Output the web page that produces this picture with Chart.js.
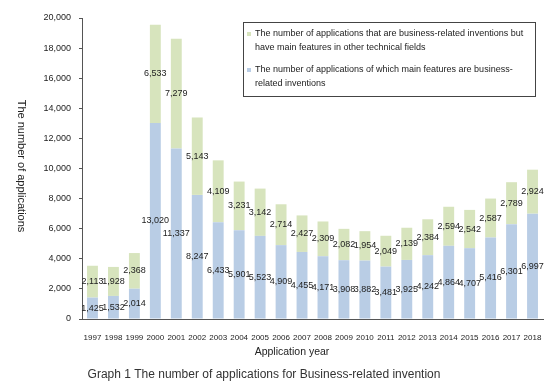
<!DOCTYPE html>
<html>
<head>
<meta charset="utf-8">
<script src="https://cdn.jsdelivr.net/npm/chart.js@4.4.1/dist/chart.umd.min.js"></script>
<style>
  body { margin: 0; background: #fff; }
  #wrap { width: 551px; height: 388px; }
</style>
</head>
<body>
<div id="wrap"><canvas id="chart" width="551" height="388"></canvas></div>
<script>
const years = ['1997', '1998', '1999', '2000', '2001', '2002', '2003', '2004', '2005', '2006', '2007',
    '2008', '2009', '2010', '2011', '2012', '2013', '2014', '2015', '2016', '2017', '2018'];
const mainFeatureCounts = [1425, 1532, 2014, 13020, 11337, 8247, 6433, 5901, 5523, 4909, 4455,
    4171, 3908, 3882, 3481, 3925, 4242, 4864, 4707, 5416, 6301, 6997];
const otherFieldCounts = [2113, 1928, 2368, 6533, 7279, 5143, 4109, 3231, 3142, 2714, 2427,
    2309, 2082, 1954, 2049, 2139, 2384, 2594, 2542, 2587, 2789, 2924];

const mainLabelLines = ['The number of applications of which main features are business-', 'related inventions'];
const otherLabelLines = ['The number of applications that are business-related inventions but', 'have main features in other technical fields'];
const yTitle = 'The number of applications';
const xTitle = 'Application year';
const caption = 'Graph 1 The number of applications for Business-related invention';

const blue = '#b9cde5';
const green = '#d7e4bd';
const fontFamily = '"Liberation Sans", Arial, sans-serif';

const valueLabels = {
    id: 'valueLabels',
    afterDatasetsDraw(chart) {
        const ctx = chart.ctx;
        ctx.save();
        ctx.font = '9px ' + fontFamily;
        ctx.fillStyle = '#222';
        ctx.textAlign = 'center';
        ctx.textBaseline = 'middle';
        chart.data.datasets.forEach((ds, i) => {
            const meta = chart.getDatasetMeta(i);
            meta.data.forEach((bar, j) => {
                const y = (bar.y + bar.base) / 2;
                ctx.fillText(ds.data[j].toLocaleString('en-US'), bar.x, y);
            });
        });
        ctx.restore();
    }
};

const extras = {
    id: 'extras',
    afterDraw(chart) {
        const ctx = chart.ctx;
        ctx.save();

        // legend box
        const bx = 243, by = 22, bw = 292, bh = 74;
        ctx.fillStyle = '#fff';
        ctx.fillRect(bx, by, bw, bh);
        ctx.strokeStyle = '#444';
        ctx.lineWidth = 1;
        ctx.strokeRect(bx + 0.5, by + 0.5, bw, bh);

        ctx.font = '9px ' + fontFamily;
        ctx.textAlign = 'left';
        ctx.textBaseline = 'middle';
        const entries = [
            { color: green, lines: otherLabelLines, y: 34 },
            { color: blue, lines: mainLabelLines, y: 70 }
        ];
        entries.forEach(e => {
            ctx.fillStyle = e.color;
            ctx.fillRect(bx + 4, e.y - 2, 4, 4);
            ctx.fillStyle = '#222';
            e.lines.forEach((line, k) => {
                ctx.fillText(line, bx + 12, e.y + k * 13.5);
            });
        });

        // y axis title, reading top to bottom
        ctx.save();
        ctx.translate(21, 166);
        ctx.rotate(Math.PI / 2);
        ctx.font = '11px ' + fontFamily;
        ctx.fillStyle = '#222';
        ctx.textAlign = 'center';
        ctx.fillText(yTitle, 0, 0);
        ctx.restore();

        ctx.textAlign = 'center';
        ctx.fillStyle = '#222';
        ctx.font = '10.5px ' + fontFamily;
        ctx.fillText(xTitle, 292, 352);

        ctx.fillStyle = '#333';
        ctx.font = '12px ' + fontFamily;
        ctx.fillText(caption, 264, 375);

        ctx.restore();
    }
};

new Chart(document.getElementById('chart').getContext('2d'), {
    type: 'bar',
    data: {
        labels: years,
        datasets: [
            { label: mainLabelLines.join(''), data: mainFeatureCounts, backgroundColor: blue },
            { label: otherLabelLines.join(' '), data: otherFieldCounts, backgroundColor: green }
        ]
    },
    options: {
        responsive: false,
        animation: false,
        layout: { padding: { left: 0, top: 18, right: 8, bottom: 0 } },
        datasets: { bar: { categoryPercentage: 1, barPercentage: 0.52 } },
        scales: {
            x: {
                stacked: true,
                afterFit: scale => { scale.height = 69; },
                grid: { display: false },
                border: { display: true, color: '#555' },
                ticks: { font: { family: fontFamily, size: 8 }, color: '#222', padding: 6, maxRotation: 0, autoSkip: false }
            },
            y: {
                stacked: true,
                min: 0,
                max: 20000,
                afterFit: scale => { scale.width = 82; },
                grid: { drawOnChartArea: false, drawTicks: true, tickLength: 3, color: '#555' },
                border: { display: true, color: '#555' },
                ticks: {
                    stepSize: 2000,
                    padding: 8,
                    color: '#222',
                    font: { family: fontFamily, size: 9 },
                    callback: v => v.toLocaleString('en-US')
                }
            }
        },
        plugins: {
            legend: { display: false },
            tooltip: { enabled: false }
        }
    },
    plugins: [valueLabels, extras]
});
</script>
</body>
</html>
